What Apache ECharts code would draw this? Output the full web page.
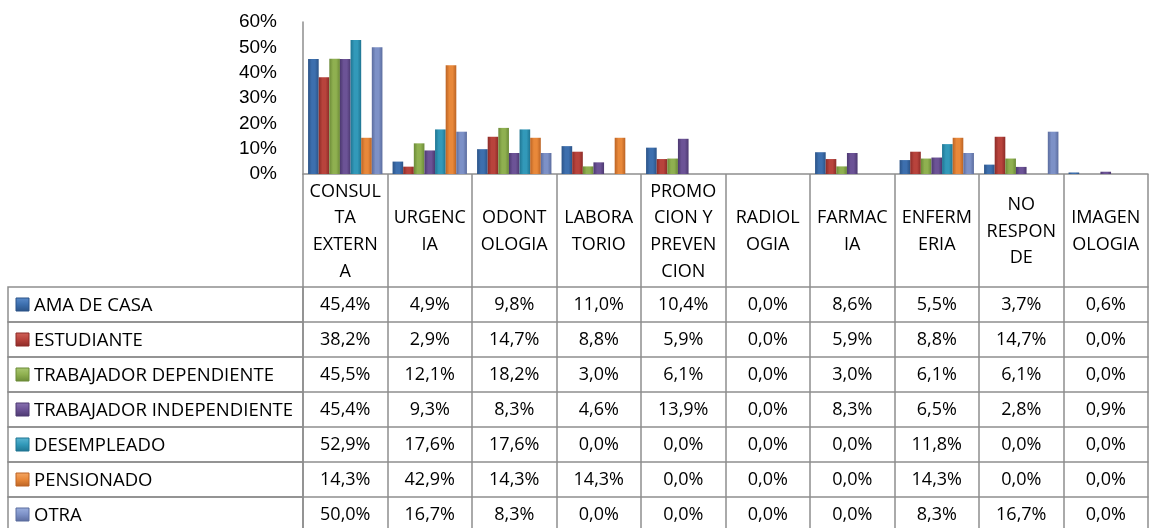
<!DOCTYPE html>
<html>
<head>
<meta charset="utf-8">
<script src="https://cdn.jsdelivr.net/npm/echarts@6/dist/echarts.min.js"></script>
<style>
  html, body { margin: 0; padding: 0; background: #fff; }
  #chart { width: 1156px; height: 528px; }
</style>
</head>
<body>
<div id="chart"></div>
<script>
// tick labels of the category axis (wrapped as in the table header)
var headerLabels = ['CONSUL\nTA\nEXTERN\nA', 'URGENC\nIA', 'ODONT\nOLOGIA', 'LABORA\nTORIO',
  'PROMO\nCION Y\nPREVEN\nCION', 'RADIOL\nOGIA', 'FARMAC\nIA', 'ENFERM\nERIA', 'NO\nRESPON\nDE', 'IMAGEN\nOLOGIA'];

var seriesNames = ['AMA DE CASA', 'ESTUDIANTE', 'TRABAJADOR DEPENDIENTE', 'TRABAJADOR INDEPENDIENTE',
  'DESEMPLEADO', 'PENSIONADO', 'OTRA'];

var amaDeCasa   = [45.4, 4.9, 9.8, 11.0, 10.4, 0.0, 8.6, 5.5, 3.7, 0.6];
var estudiante  = [38.2, 2.9, 14.7, 8.8, 5.9, 0.0, 5.9, 8.8, 14.7, 0.0];
var trabDep     = [45.5, 12.1, 18.2, 3.0, 6.1, 0.0, 3.0, 6.1, 6.1, 0.0];
var trabIndep   = [45.4, 9.3, 8.3, 4.6, 13.9, 0.0, 8.3, 6.5, 2.8, 0.9];
var desempleado = [52.9, 17.6, 17.6, 0.0, 0.0, 0.0, 0.0, 11.8, 0.0, 0.0];
var pensionado  = [14.3, 42.9, 14.3, 14.3, 0.0, 0.0, 0.0, 14.3, 0.0, 0.0];
var otra        = [50.0, 16.7, 8.3, 0.0, 0.0, 0.0, 0.0, 8.3, 16.7, 0.0];

var yTicks = [0, 10, 20, 30, 40, 50, 60];

var allData = [amaDeCasa, estudiante, trabDep, trabIndep, desempleado, pensionado, otra];

// [dark, base, light]
var palette = [
  ['#2b5387', '#3d6fae', '#5b8ccb'],
  ['#8c2b27', '#b8433c', '#d1625a'],
  ['#6b8a37', '#8fb050', '#aac872'],
  ['#4c3870', '#6c5396', '#8a73b2'],
  ['#1f7592', '#3299b9', '#5cb6d2'],
  ['#bb6324', '#e8883a', '#f5a865'],
  ['#5b6c9e', '#7d91c7', '#9cb0de']
];

var border = '#8e8e8e';
var font = '"Open Sans", sans-serif';
var gridLeft = 303, gridRight = 1148, axisY = 174, gridTop = 22;
var headerH = 113, rowH = 35, tableLeft = 8;

function pct(v) { return v.toFixed(1).replace('.', ',') + '%'; }

var chart = echarts.init(document.getElementById('chart'));

var xAxes = [{
  type: 'category',
  data: headerLabels,
  axisLine: { show: true, lineStyle: { color: border, width: 1.5 } },
  axisTick: { show: true, interval: 0, length: headerH, lineStyle: { color: border, width: 1.5 } },
  axisLabel: {
    interval: 0, margin: headerH / 2 + 1, verticalAlign: 'middle', lineHeight: 26.7,
    fontSize: 18, fontFamily: font, color: '#000'
  }
}];
allData.forEach(function (row, i) {
  xAxes.push({
    type: 'category',
    position: 'bottom',
    offset: headerH + rowH * i,
    data: row.map(pct),
    axisLine: { show: true, lineStyle: { color: border, width: 1.5 } },
    axisTick: { show: true, interval: 0, length: rowH, lineStyle: { color: border, width: 1.5 } },
    axisLabel: {
      interval: 0, margin: rowH / 2, verticalAlign: 'middle',
      fontSize: 18, fontFamily: font, color: '#000'
    }
  });
});

var graphics = [];
seriesNames.forEach(function (name, i) {
  var top = axisY + headerH + rowH * i;
  var c = palette[i];
  graphics.push({
    type: 'rect', silent: true,
    shape: { x: tableLeft, y: top, width: gridLeft - tableLeft, height: rowH },
    style: { fill: 'none', stroke: border, lineWidth: 1.5 }
  });
  graphics.push({
    type: 'rect', silent: true,
    shape: { x: 16, y: top + 11, width: 13, height: 13 },
    style: {
      fill: new echarts.graphic.LinearGradient(0, 0, 0, 1, [
        { offset: 0, color: c[2] }, { offset: 0.5, color: c[1] }, { offset: 1, color: c[0] }
      ]),
      stroke: c[0], lineWidth: 1
    }
  });
  graphics.push({
    type: 'text', silent: true,
    style: {
      text: name, x: 34, y: top + rowH / 2 + 1, verticalAlign: 'middle',
      font: '18.5px ' + font, fill: '#000'
    }
  });
});

var option = {
  animation: false,
  grid: { left: gridLeft, right: 1156 - gridRight, top: gridTop, bottom: 528 - axisY, containLabel: false },
  xAxis: xAxes,
  yAxis: {
    type: 'value',
    min: yTicks[0],
    max: yTicks[yTicks.length - 1],
    interval: 10,
    axisLine: { show: true, lineStyle: { color: border, width: 1.5 } },
    axisTick: { show: false },
    splitLine: { show: false },
    axisLabel: {
      margin: 26, fontSize: 19, fontFamily: '"Liberation Sans", Arial, sans-serif', color: '#000',
      formatter: '{value}%'
    }
  },
  series: allData.map(function (row, i) {
    var c = palette[i];
    return {
      name: seriesNames[i],
      type: 'bar',
      xAxisIndex: 0,
      barGap: 0,
      barCategoryGap: '12%',
      itemStyle: {
        color: new echarts.graphic.LinearGradient(0, 0, 1, 0, [
          { offset: 0, color: c[0] }, { offset: 0.35, color: c[1] },
          { offset: 0.65, color: c[1] }, { offset: 1, color: c[0] }
        ])
      },
      data: row
    };
  }),
  graphic: graphics
};

chart.setOption(option);
</script>
</body>
</html>
